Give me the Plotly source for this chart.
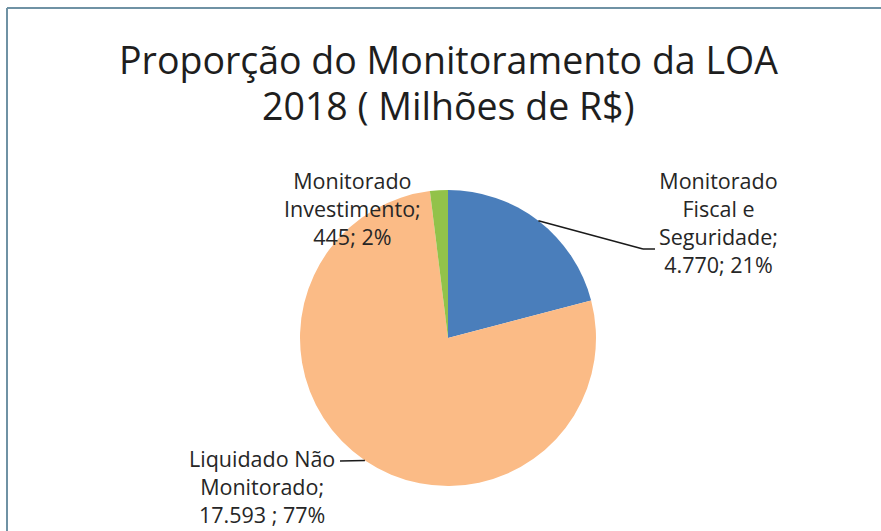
import math
import plotly.graph_objects as go

# ---- data ----
categories = ["Monitorado Fiscal e Seguridade", "Liquidado Não Monitorado", "Monitorado Investimento"]
values = [4770, 17593, 445]
label_text = ["Monitorado<br>Fiscal e<br>Seguridade;", "Liquidado Não<br>Monitorado;", "Monitorado<br>Investimento;"]
value_text = ["4.770", "17.593 ", "445"]
colors = ["#4A7EBB", "#FBBB86", "#92C24A"]
title_lines = ["Proporção do Monitoramento da LOA", "2018 ( Milhões de R$)"]

W, H = 881, 531
CX, CY, R = 448, 338, 148


def px(x):
    return x / W


def py(y):
    return 1 - y / H


total = sum(values)
pcts = [round(100 * v / total) for v in values]

fig = go.Figure(go.Pie(
    labels=categories,
    values=values,
    sort=False,
    direction="clockwise",
    rotation=0,
    marker=dict(colors=colors, line=dict(width=0)),
    textinfo="none",
    hoverinfo="label+value+percent",
    domain=dict(x=[px(CX - R), px(CX + R)], y=[py(CY + R), py(CY - R)]),
    showlegend=False,
))

# slice mid angles (start at 12 o'clock, clockwise)
mids = []
acc = 0
for v in values:
    frac = v / total
    mid_deg = 90 - 360 * (acc + frac / 2)
    mids.append(math.radians(mid_deg))
    acc += frac


def edge(i):
    a = mids[i]
    return CX + R * math.cos(a), CY - R * math.sin(a)


# label positions (pixel centers) and leader line paths
label_pos = [(718, 223), (262, 486), (352, 208)]
leaders = {0: [(643, 249), (655, 249)], 1: [(340, 461)]}

shapes = []
for i, pts in leaders.items():
    x0, y0 = edge(i)
    path = [(x0, y0)] + pts
    for (a, b), (c, d) in zip(path[:-1], path[1:]):
        shapes.append(dict(type="line", xref="paper", yref="paper",
                           x0=px(a), y0=py(b), x1=px(c), y1=py(d),
                           line=dict(color="#1a1a1a", width=1.5)))

# chart border (top and left)
shapes.append(dict(type="line", xref="paper", yref="paper", x0=px(7), y0=py(8), x1=1.0, y1=py(8),
                   line=dict(color="#6F92A4", width=2)))
shapes.append(dict(type="line", xref="paper", yref="paper", x0=px(7), y0=py(8), x1=px(7), y1=0,
                   line=dict(color="#6F92A4", width=2)))

annotations = []
for i in range(len(values)):
    txt = f"{label_text[i]}<br>{value_text[i]}; {pcts[i]}%"
    x, y = label_pos[i]
    annotations.append(dict(x=px(x), y=py(y), xref="paper", yref="paper", text=txt,
                            showarrow=False, xanchor="center", yanchor="middle", align="center",
                            font=dict(family="Open Sans", size=21.5, color="#262626")))

for line, yc in zip(title_lines, [60, 106]):
    annotations.append(dict(x=px(448), y=py(yc), xref="paper", yref="paper", text=line,
                            showarrow=False, xanchor="center", yanchor="middle",
                            font=dict(family="Open Sans", size=37.5, color="#1e1e1e")))

fig.update_layout(
    width=W, height=H,
    margin=dict(l=0, r=0, t=0, b=0),
    paper_bgcolor="#FFFFFF",
    plot_bgcolor="#FFFFFF",
    shapes=shapes,
    annotations=annotations,
)

fig.write_html(
    "out.html",
    config={"displayModeBar": False},
    post_script="document.body.style.margin='0';document.body.style.overflow='hidden';",
)
